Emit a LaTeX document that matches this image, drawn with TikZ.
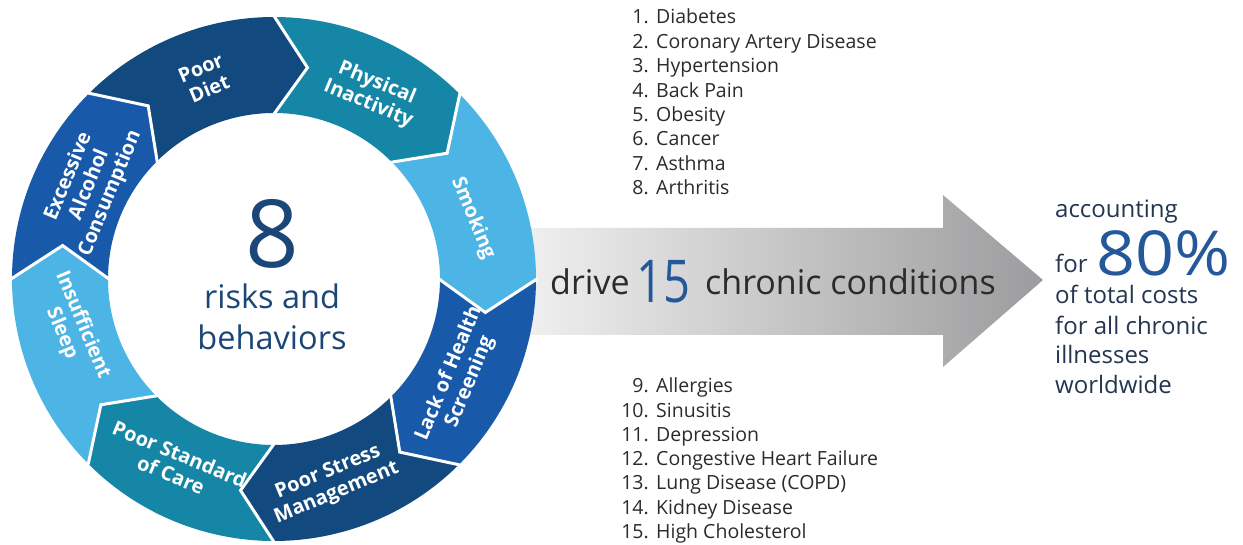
\documentclass[tikz,border=0pt]{standalone}
\usepackage{fontspec}
\setmainfont{Open Sans}
\definecolor{segnavy}{HTML}{124A80}
\definecolor{segteal}{HTML}{1686A6}
\definecolor{seglight}{HTML}{4DB4E6}
\definecolor{segmed}{HTML}{1859AA}
\definecolor{bignavy}{HTML}{1B4678}
\definecolor{numblue}{HTML}{24589A}
\definecolor{arrowgray}{HTML}{9C9C9E}
\definecolor{listgray}{HTML}{2B2B2B}
\definecolor{slate}{HTML}{22364F}
\tikzset{
  lbl/.style={text=white, font=\bfseries\fontsize{20}{22.5}\selectfont, align=center, inner sep=0pt},
  listtxt/.style={text=listgray, font=\fontsize{19.5}{24}\selectfont, inner sep=0pt},
  righttxt/.style={text=slate, font=\fontsize{24}{30}\selectfont, inner sep=0pt, anchor=base west},
  sepline/.style={draw=white, line width=3pt, line join=miter},
}
\begin{document}
\begin{tikzpicture}[x=1pt,y=1pt]
\useasboundingbox (0,0) rectangle (1243,544);
\fill[white] (0,0) rectangle (1243,544);
% big arrow
\path[left color=gray!5, right color=arrowgray]
  (470,209) -- (943,209) -- (943,177) -- (1043,264) -- (943,349) -- (943,316) -- (470,316) -- cycle;
% ring
\coordinate (c) at (274,265);
\begin{scope}[shift={(274,265)}]
  \foreach \a/\b/\col in {90/45/segteal, 45/0/seglight, 0/-45/segmed, -45/-90/segnavy,
                          -90/-135/segteal, -135/-180/seglight, 180/135/segmed, 135/90/segnavy}{
    \fill[\col] (\a:262) arc[start angle=\a, end angle=\b, radius=262]
      -- (\b-9:214) -- (\b:166) arc[start angle=\b, end angle=\a, radius=166]
      -- (\a-9:214) -- cycle;
  }
  \foreach \a in {0,45,...,315}{
    \draw[sepline] (\a:263) -- (\a-9:214) -- (\a:165);
  }
  \node[lbl, rotate=-22.5] (s1) at (62:210) {Physical\\Inactivity};
  \node[lbl, rotate=-67.5] (s2) at (17:208) {Smoking};
  \node[lbl, rotate=67.5]  (s3) at (-28:210) {Lack of Health\\Screening};
  \node[lbl, rotate=22.5]  (s4) at (-74:212) {Poor Stress\\Management};
  \node[lbl, rotate=-22.5] (s5) at (-118:210) {Poor Standard\\of Care};
  \node[lbl, rotate=-67.5] (s6) at (-166:208) {Insufficient\\Sleep};
  \node[lbl, rotate=67.5]  (s7) at (153:207) {Excessive\\Alcohol\\Consumption};
  \node[lbl, rotate=22.5]  (s8) at (109:212) {Poor\\Diet};
\end{scope}
% centre text
\node[text=bignavy, font=\fontsize{94}{94}\selectfont, inner sep=0pt] (eight) at (272,310) {8};
\node[text=bignavy, font=\fontsize{32.5}{40}\selectfont, inner sep=0pt, anchor=base] (risks) at (272,235) {risks and};
\node[text=bignavy, font=\fontsize{32.5}{40}\selectfont, inner sep=0pt, anchor=base] (behav) at (272,194) {behaviors};
% arrow text
\node[text=listgray, font=\fontsize{34}{40}\selectfont, inner sep=0pt, anchor=base west] (drive) at (550,249) {drive};
\node[text=numblue, font=\fontsize{59}{60}\selectfont, inner sep=0pt, anchor=south west, xscale=0.8] (fifteen) at (636,241) {15};
\node[text=listgray, font=\fontsize{34}{40}\selectfont, inner sep=0pt, anchor=base west] (chronic) at (705,249) {chronic conditions};
% right text
\node[righttxt] (acc) at (1055,326) {accounting};
\node[righttxt] (for1) at (1055,271) {for};
\node[text=numblue, font=\fontsize{62}{64}\selectfont, inner sep=0pt, anchor=base west, xscale=1.1] (eighty) at (1096,268) {80\%};
\node[righttxt] (tot) at (1055,240) {of total costs};
\node[righttxt] (fac) at (1055,209) {for all chronic};
\node[righttxt] (ill) at (1055,180) {illnesses};
\node[righttxt] (wor) at (1055,150) {worldwide};
% lists
\foreach \n/\t [count=\k from 0] in {1/Diabetes, 2/{Coronary Artery Disease}, 3/Hypertension, 4/{Back Pain},
    5/Obesity, 6/Cancer, 7/Asthma, 8/Arthritis}{
  \node[listtxt, anchor=base east] (ln\n) at (649,520-24.4*\k) {\n.};
  \node[listtxt, anchor=base west] (lt\n) at (656,520-24.4*\k) {\t};
}
\foreach \n/\t [count=\k from 0] in {9/Allergies, 10/Sinusitis, 11/Depression, 12/{Congestive Heart Failure},
    13/{Lung Disease (COPD)}, 14/{Kidney Disease}, 15/{High Cholesterol}}{
  \node[listtxt, anchor=base east] (ln\n) at (649,151-24.2*\k) {\n.};
  \node[listtxt, anchor=base west] (lt\n) at (656,151-24.2*\k) {\t};
}
\end{tikzpicture}
\end{document}
